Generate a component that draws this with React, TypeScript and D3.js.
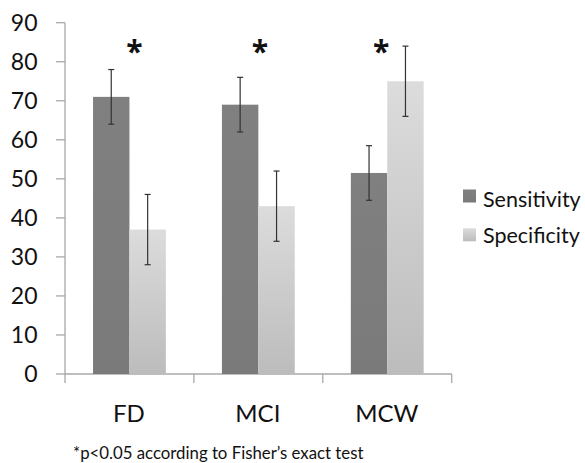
import React from "react";
import * as d3 from "d3";

const categories = ["FD", "MCI", "MCW"];
const seriesNames = ["Sensitivity", "Specificity"];
const sensitivity = [71, 69, 51.5];
const specificity = [37, 43, 75];
const sensitivityErr = [7, 7, 7];
const specificityErr = [9, 9, 9];
const significant = [true, true, true];
const yTicks = [0, 10, 20, 30, 40, 50, 60, 70, 80, 90];
const footnote = "*p<0.05 according to Fisher\u2019s exact test";

const W = 585;
const H = 463;
const FONT = "Lato, 'Open Sans', sans-serif";

export default function App() {
  const y = d3.scaleLinear().domain([0, 90]).range([374, 22.7]);
  const x0 = d3.scaleBand<string>().domain(categories).range([65, 451.7]).padding(0);
  const x1 = d3
    .scaleBand<string>()
    .domain(seriesNames)
    .range([0, x0.bandwidth()])
    .paddingInner(0)
    .paddingOuter(0.77);
  const values = [sensitivity, specificity];
  const errs = [sensitivityErr, specificityErr];
  const axisColor = "#a8a8a8";

  return (
    <svg
      width={W}
      height={H}
      style={{ position: "absolute", left: 0, top: 0, background: "#fff" }}
      fontFamily={FONT}
    >
      <defs>
        <linearGradient id="lightGrad" x1="0" y1="0" x2="0" y2="1">
          <stop offset="0%" stopColor="#dcdcdc" />
          <stop offset="100%" stopColor="#bcbcbc" />
        </linearGradient>
        <linearGradient id="darkGrad" x1="0" y1="0" x2="0" y2="1">
          <stop offset="0%" stopColor="#808080" />
          <stop offset="100%" stopColor="#7a7a7a" />
        </linearGradient>
      </defs>
      {/* y axis */}
      <line x1={65} x2={65} y1={y(90)} y2={y(0)} stroke={axisColor} strokeWidth={1.3} />
      {yTicks.map((t) => (
        <g key={t}>
          <line x1={56} x2={65} y1={y(t)} y2={y(t)} stroke={axisColor} strokeWidth={1.3} />
          <text
            x={37.5}
            y={y(t) + 8.3}
            textAnchor="end"
            fontSize={23}
            fill="#111"
          >
            {t}
          </text>
        </g>
      ))}
      {/* x axis */}
      <line x1={65} x2={451.7} y1={y(0)} y2={y(0)} stroke={axisColor} strokeWidth={1.3} />
      {[...categories.map((c) => x0(c)!), 451.7].map((xx, i) => (
        <line key={i} x1={xx} x2={xx} y1={y(0)} y2={y(0) + 9} stroke={axisColor} strokeWidth={1.3} />
      ))}
      {categories.map((c) => (
        <text
          key={c}
          x={x0(c)! + x0.bandwidth() / 2 - 0.5}
          y={422.3}
          textAnchor="middle"
          fontSize={24}
          fill="#111"
        >
          {c}
        </text>
      ))}
      {/* bars */}
      {categories.map((c, ci) =>
        seriesNames.map((s, si) => {
          const v = values[si][ci];
          const bx = x0(c)! + x1(s)!;
          return (
            <rect
              key={c + s}
              x={bx}
              y={y(v)}
              width={x1.bandwidth()}
              height={y(0) - y(v)}
              fill={si === 0 ? "url(#darkGrad)" : "url(#lightGrad)"}
            />
          );
        })
      )}
      {/* error bars */}
      {categories.map((c, ci) =>
        seriesNames.map((s, si) => {
          const v = values[si][ci];
          const e = errs[si][ci];
          const cx = x0(c)! + x1(s)! + x1.bandwidth() / 2;
          return (
            <g key={"e" + c + s} stroke="#333" strokeWidth={1.2}>
              <line x1={cx} x2={cx} y1={y(v + e)} y2={y(v - e)} />
              <line x1={cx - 3} x2={cx + 3} y1={y(v + e)} y2={y(v + e)} />
              <line x1={cx - 3} x2={cx + 3} y1={y(v - e)} y2={y(v - e)} />
            </g>
          );
        })
      )}
      {/* asterisks */}
      {categories.map((c, ci) =>
        significant[ci] ? (
          <text
            key={"a" + c}
            x={x0(c)! + x0.bandwidth() / 2 + [5, 1.5, -6][ci]}
            y={y(84) + 16}
            textAnchor="middle"
            fontSize={30}
            fontWeight="bold"
            fontFamily="'Open Sans', sans-serif"
            fill="#111"
          >
            *
          </text>
        ) : null
      )}
      {/* legend */}
      {seriesNames.map((s, si) => (
        <g key={"l" + s}>
          <rect
            x={463}
            y={189.5 + si * 38.8}
            width={13}
            height={13}
            fill={si === 0 ? "url(#darkGrad)" : "url(#lightGrad)"}
          />
          <text x={483} y={206.7 + si * 36} fontSize={21.5} fill="#111">
            {s}
          </text>
        </g>
      ))}
      <text x={73} y={459} fontSize={16.8} fill="#111">
        {footnote}
      </text>
    </svg>
  );
}
